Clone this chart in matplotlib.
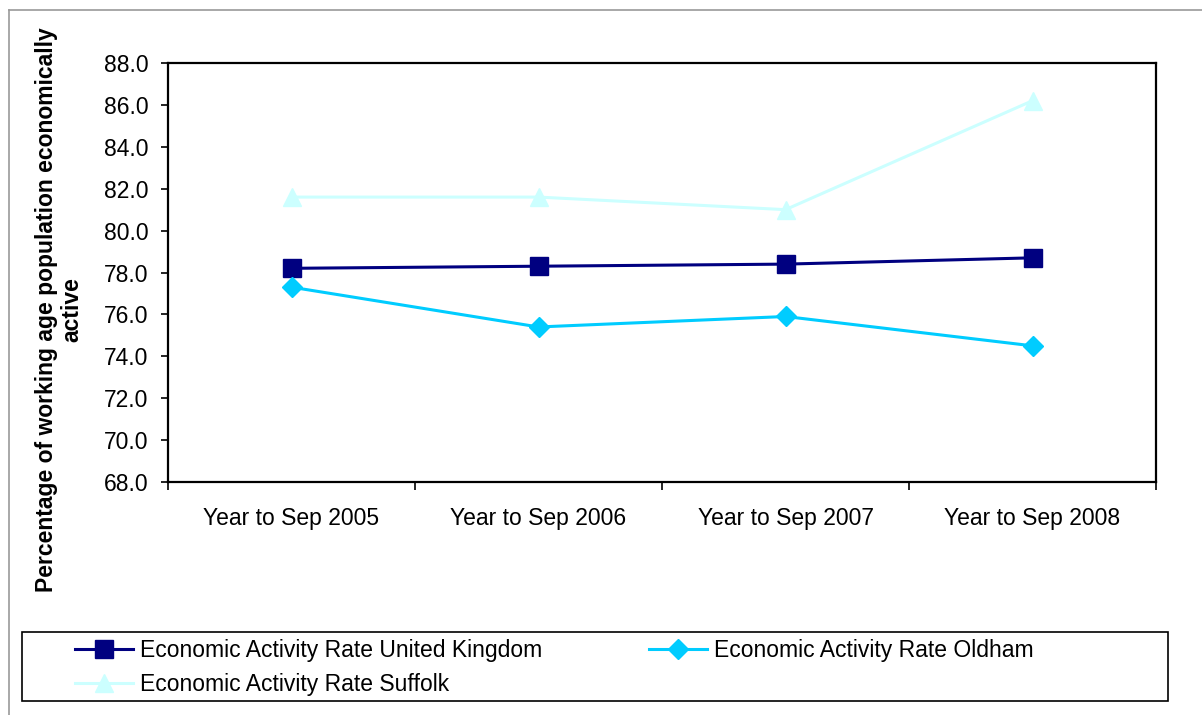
import matplotlib
matplotlib.use("Agg")
import matplotlib.pyplot as plt
from matplotlib.lines import Line2D
from matplotlib.patches import Rectangle

plt.rcParams['font.family'] = ['Liberation Sans', 'DejaVu Sans']

categories = ["Year to Sep 2005", "Year to Sep 2006", "Year to Sep 2007", "Year to Sep 2008"]
uk = [78.2, 78.3, 78.4, 78.7]
oldham = [77.3, 75.4, 75.9, 74.5]
suffolk = [81.6, 81.6, 81.0, 86.2]
y_ticks = [68.0, 70.0, 72.0, 74.0, 76.0, 78.0, 80.0, 82.0, 84.0, 86.0, 88.0]

W, H = 1202, 715
fig = plt.figure(figsize=(W / 100, H / 100), dpi=100)
fig.patch.set_facecolor("white")

ax = fig.add_axes([168 / W, 1 - 482 / H, (1156 - 168) / W, (482 - 63) / H])
x = list(range(len(categories)))

l_uk, = ax.plot(x, uk, color="#000080", lw=2.2, marker="s", ms=12.5,
                label="Economic Activity Rate United Kingdom")
l_old, = ax.plot(x, oldham, color="#00CCFF", lw=2.2, marker="D", ms=10,
                 label="Economic Activity Rate Oldham")
l_suf, = ax.plot(x, suffolk, color="#CCFFFF", lw=2.2, marker="^", ms=13,
                 label="Economic Activity Rate Suffolk")

ax.set_xlim(-0.5, len(categories) - 0.5)
ax.set_ylim(68, 88)
ax.set_yticks(y_ticks)
ax.set_yticklabels([f"{v:.1f}" for v in y_ticks])
ax.set_xticks(x)
ax.set_xticklabels(categories)
ax.set_xticks([i - 0.5 for i in range(len(categories) + 1)], minor=True)

fs = 16.5
ax.tick_params(axis="y", direction="out", length=5, width=1.2, pad=9, labelsize=fs)
ax.tick_params(axis="x", which="major", length=0, pad=18, labelsize=fs)
ax.tick_params(axis="x", which="minor", direction="out", length=6, width=1.2)
for s in ax.spines.values():
    s.set_linewidth(1.6)
    s.set_color("black")

fig.text(59 / W, 1 - 310 / H,
         "Percentage of working age population economically\nactive",
         rotation=90, ha="center", va="center", fontsize=fs,
         fontweight="bold", linespacing=1.1)

# legend frame
fig.add_artist(Rectangle((22 / W, 1 - 701 / H), (1168 - 22) / W, (701 - 632) / H,
                         transform=fig.transFigure, fill=False,
                         edgecolor="black", lw=1.2))
fig.legend(handles=[l_uk, l_suf, l_old], loc="upper left",
           bbox_to_anchor=(75 / W, 1 - 639 / H), ncol=2, frameon=False,
           fontsize=fs, handlelength=2.55, handletextpad=0.28,
           columnspacing=4.65, labelspacing=0.5, borderpad=0,
           borderaxespad=0)

# outer border
fig.add_artist(Line2D([9 / W, 1], [1 - 10 / H, 1 - 10 / H],
                      transform=fig.transFigure, color="#999999", lw=1.2))
fig.add_artist(Line2D([9 / W, 9 / W], [0, 1 - 10 / H],
                      transform=fig.transFigure, color="#999999", lw=1.2))

fig.savefig("out.png", dpi=100)
